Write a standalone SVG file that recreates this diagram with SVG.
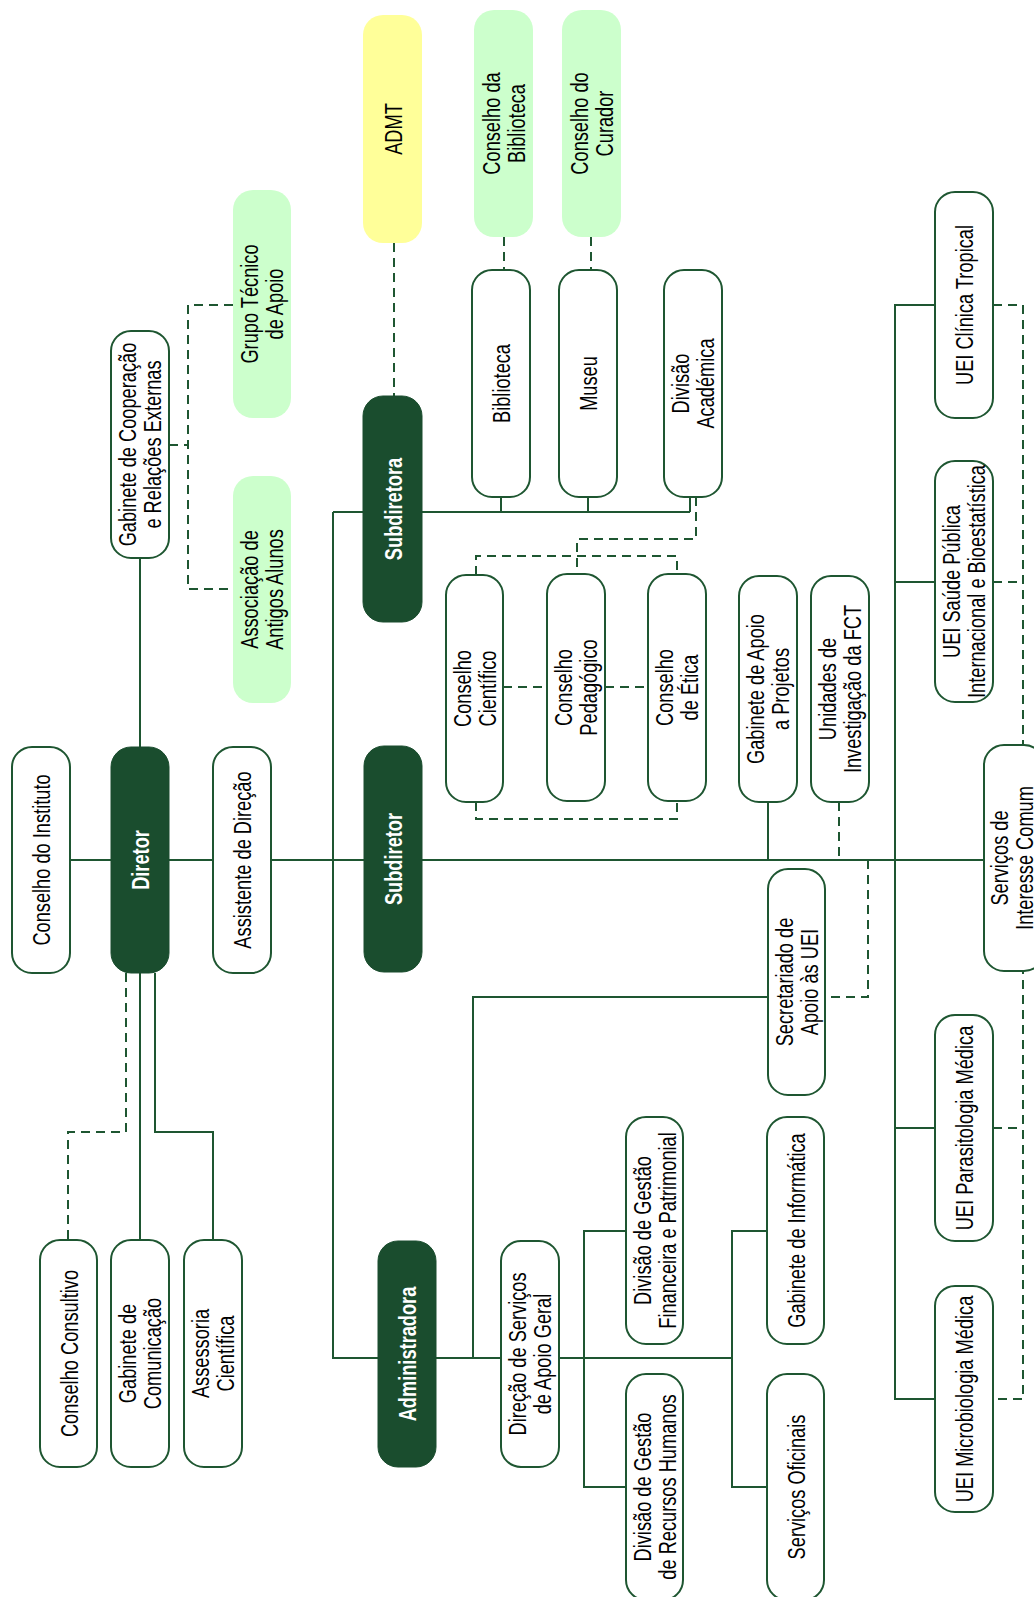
<svg xmlns="http://www.w3.org/2000/svg" width="1034" height="1597" viewBox="0 0 1034 1597">
<style>
.ln{fill:none;stroke:#1e5631;stroke-width:2}
.dl{fill:none;stroke:#1e5631;stroke-width:2;stroke-dasharray:9 6}
.box{fill:#ffffff;stroke:#1e5631;stroke-width:2}
.dark{fill:#1a4d2e;stroke:#1a4d2e;stroke-width:1}
.green{fill:#ccffcc}
.yellow{fill:#ffff99}
text{font-family:"Liberation Sans",Arial,sans-serif;font-size:24px;fill:#000;text-anchor:middle}
text.b{font-weight:bold;fill:#ffffff}
</style>
<rect width="1034" height="1597" fill="#ffffff"/>
<g id="connectors">
<path class="ln" d="M70 860 H984"/>
<path class="ln" d="M140 558 V747"/>
<path class="ln" d="M140 973 V1240"/>
<path class="ln" d="M155 973 V1132 H213 V1240"/>
<path class="ln" d="M333 512 H690"/>
<path class="ln" d="M333 512 V1358 H378"/>
<path class="ln" d="M501 497 V512 M588 497 V512 M690 497 V512"/>
<path class="ln" d="M436 1358 H501 M559 1358 H732"/>
<path class="ln" d="M473 1358 V997 H768"/>
<path class="ln" d="M626 1231 H584 V1487 H626"/>
<path class="ln" d="M767 1231 H732 V1487 H767"/>
<path class="ln" d="M768 802 V860"/>
<path class="ln" d="M935 305 H895 V1399 H935 M895 582 H935 M895 1128 H935"/>
<path class="dl" d="M126 973 V1132 H68 V1240"/>
<path class="dl" d="M169 445 H188 M233 305 H188 V589 H233"/>
<path class="dl" d="M394 243 V396"/>
<path class="dl" d="M504 237 V270 M591 237 V270"/>
<path class="dl" d="M696 497 V539 H577 V574"/>
<path class="dl" d="M476 575 V556 H677 V574"/>
<path class="dl" d="M503 687 H547 M605 687 H648"/>
<path class="dl" d="M476 802 V819 H677 V801"/>
<path class="dl" d="M839 802 V860"/>
<path class="dl" d="M868 860 V997 H825"/>
<path class="dl" d="M993 305 H1023 V1399 H993 M993 582 H1023 M993 1128 H1023"/>
</g>
<g id="n-conselho-instituto"><rect class="box" x="12" y="747" width="58" height="226" rx="20"/><text transform="translate(41,860) rotate(-90) scale(0.76,1)" y="9">Conselho do Instituto</text></g>
<g id="n-diretor"><rect class="dark" x="111" y="747" width="58" height="226" rx="20"/><text class="b" transform="translate(140,860) rotate(-90) scale(0.76,1)" y="9">Diretor</text></g>
<g id="n-assistente"><rect class="box" x="213" y="747" width="58" height="226" rx="20"/><text transform="translate(242,860) rotate(-90) scale(0.76,1)" y="9">Assistente de Direção</text></g>
<g id="n-subdiretor"><rect class="dark" x="364" y="746" width="58" height="226" rx="20"/><text class="b" transform="translate(393,859) rotate(-90) scale(0.76,1)" y="9">Subdiretor</text></g>
<g id="n-gab-coop"><rect class="box" x="111" y="331" width="58" height="227" rx="20"/><text transform="translate(140,444.5) rotate(-90) scale(0.76,1)"><tspan x="0" y="-4">Gabinete de Cooperação</tspan><tspan x="0" y="21">e Relações Externas</tspan></text></g>
<g id="n-grupo-tecnico"><rect class="green" x="233" y="190" width="58" height="228" rx="20"/><text transform="translate(262,304) rotate(-90) scale(0.76,1)"><tspan x="0" y="-4">Grupo Técnico</tspan><tspan x="0" y="21">de Apoio</tspan></text></g>
<g id="n-associacao"><rect class="green" x="233" y="476" width="58" height="227" rx="20"/><text transform="translate(262,589.5) rotate(-90) scale(0.76,1)"><tspan x="0" y="-4">Associação de</tspan><tspan x="0" y="21">Antigos Alunos</tspan></text></g>
<g id="n-admt"><rect class="yellow" x="363" y="15" width="59" height="228" rx="20"/><text transform="translate(392.5,129) rotate(-90) scale(0.76,1)" y="9">ADMT</text></g>
<g id="n-subdiretora"><rect class="dark" x="363" y="396" width="59" height="226" rx="20"/><text class="b" transform="translate(392.5,509) rotate(-90) scale(0.76,1)" y="9">Subdiretora</text></g>
<g id="n-conselho-biblioteca"><rect class="green" x="474" y="10" width="59" height="227" rx="20"/><text transform="translate(503.5,123.5) rotate(-90) scale(0.76,1)"><tspan x="0" y="-4">Conselho da</tspan><tspan x="0" y="21">Biblioteca</tspan></text></g>
<g id="n-conselho-curador"><rect class="green" x="562" y="10" width="59" height="227" rx="20"/><text transform="translate(591.5,123.5) rotate(-90) scale(0.76,1)"><tspan x="0" y="-4">Conselho do</tspan><tspan x="0" y="21">Curador</tspan></text></g>
<g id="n-biblioteca"><rect class="box" x="472" y="270" width="58" height="227" rx="20"/><text transform="translate(501,383.5) rotate(-90) scale(0.76,1)" y="9">Biblioteca</text></g>
<g id="n-museu"><rect class="box" x="559" y="270" width="58" height="227" rx="20"/><text transform="translate(588,383.5) rotate(-90) scale(0.76,1)" y="9">Museu</text></g>
<g id="n-divisao-academica"><rect class="box" x="664" y="270" width="58" height="227" rx="20"/><text transform="translate(693,383.5) rotate(-90) scale(0.76,1)"><tspan x="0" y="-4">Divisão</tspan><tspan x="0" y="21">Académica</tspan></text></g>
<g id="n-conselho-cientifico"><rect class="box" x="446" y="575" width="57" height="227" rx="20"/><text transform="translate(474.5,688.5) rotate(-90) scale(0.76,1)"><tspan x="0" y="-4">Conselho</tspan><tspan x="0" y="21">Científico</tspan></text></g>
<g id="n-conselho-pedagogico"><rect class="box" x="547" y="574" width="58" height="227" rx="20"/><text transform="translate(576,687.5) rotate(-90) scale(0.76,1)"><tspan x="0" y="-4">Conselho</tspan><tspan x="0" y="21">Pedagógico</tspan></text></g>
<g id="n-conselho-etica"><rect class="box" x="648" y="574" width="58" height="227" rx="20"/><text transform="translate(677,687.5) rotate(-90) scale(0.76,1)"><tspan x="0" y="-4">Conselho</tspan><tspan x="0" y="21">de Ética</tspan></text></g>
<g id="n-gab-apoio-projetos"><rect class="box" x="739" y="576" width="58" height="226" rx="20"/><text transform="translate(768,689) rotate(-90) scale(0.76,1)"><tspan x="0" y="-4">Gabinete de Apoio</tspan><tspan x="0" y="21">a Projetos</tspan></text></g>
<g id="n-unidades-fct"><rect class="box" x="811" y="576" width="58" height="226" rx="20"/><text transform="translate(840,689) rotate(-90) scale(0.76,1)"><tspan x="0" y="-4">Unidades de</tspan><tspan x="0" y="21">Investigação da FCT</tspan></text></g>
<g id="n-uei-clinica"><rect class="box" x="935" y="192" width="58" height="226" rx="20"/><text transform="translate(964,305) rotate(-90) scale(0.76,1)" y="9">UEI Clínica Tropical</text></g>
<g id="n-uei-saude"><rect class="box" x="935" y="461" width="58" height="241" rx="20"/><text transform="translate(964,581.5) rotate(-90) scale(0.76,1)"><tspan x="0" y="-4">UEI Saúde Pública</tspan><tspan x="0" y="21">Internacional e Bioestatística</tspan></text></g>
<g id="n-servicos-comum"><rect class="box" x="984" y="745" width="60" height="226" rx="20"/><text transform="translate(1012,858) rotate(-90) scale(0.76,1)"><tspan x="0" y="-4">Serviços de</tspan><tspan x="0" y="21">Interesse Comum</tspan></text></g>
<g id="n-secretariado"><rect class="box" x="768" y="869" width="57" height="226" rx="20"/><text transform="translate(796.5,982) rotate(-90) scale(0.76,1)"><tspan x="0" y="-4">Secretariado de</tspan><tspan x="0" y="21">Apoio às UEI</tspan></text></g>
<g id="n-uei-parasitologia"><rect class="box" x="935" y="1015" width="58" height="226" rx="20"/><text transform="translate(964,1128) rotate(-90) scale(0.76,1)" y="9">UEI Parasitologia Médica</text></g>
<g id="n-uei-microbiologia"><rect class="box" x="935" y="1286" width="58" height="226" rx="20"/><text transform="translate(964,1399) rotate(-90) scale(0.76,1)" y="9">UEI Microbiologia Médica</text></g>
<g id="n-administradora"><rect class="dark" x="378" y="1241" width="58" height="226" rx="20"/><text class="b" transform="translate(407,1354) rotate(-90) scale(0.76,1)" y="9">Administradora</text></g>
<g id="n-direcao-servicos"><rect class="box" x="501" y="1241" width="58" height="226" rx="20"/><text transform="translate(530,1354) rotate(-90) scale(0.76,1)"><tspan x="0" y="-4">Direção de Serviços</tspan><tspan x="0" y="21">de Apoio Geral</tspan></text></g>
<g id="n-div-financeira"><rect class="box" x="626" y="1117" width="57" height="227" rx="20"/><text transform="translate(654.5,1230.5) rotate(-90) scale(0.76,1)"><tspan x="0" y="-4">Divisão de Gestão</tspan><tspan x="0" y="21">Financeira e Patrimonial</tspan></text></g>
<g id="n-div-rh"><rect class="box" x="626" y="1374" width="57" height="226" rx="20"/><text transform="translate(654.5,1487) rotate(-90) scale(0.76,1)"><tspan x="0" y="-4">Divisão de Gestão</tspan><tspan x="0" y="21">de Recursos Humanos</tspan></text></g>
<g id="n-gab-informatica"><rect class="box" x="767" y="1117" width="57" height="227" rx="20"/><text transform="translate(795.5,1230.5) rotate(-90) scale(0.76,1)" y="9">Gabinete de Informática</text></g>
<g id="n-servicos-oficinais"><rect class="box" x="767" y="1374" width="57" height="226" rx="20"/><text transform="translate(795.5,1487) rotate(-90) scale(0.76,1)" y="9">Serviços Oficinais</text></g>
<g id="n-conselho-consultivo"><rect class="box" x="40" y="1240" width="57" height="227" rx="20"/><text transform="translate(68.5,1353.5) rotate(-90) scale(0.76,1)" y="9">Conselho Consultivo</text></g>
<g id="n-gab-comunicacao"><rect class="box" x="111" y="1240" width="58" height="227" rx="20"/><text transform="translate(140,1353.5) rotate(-90) scale(0.76,1)"><tspan x="0" y="-4">Gabinete de</tspan><tspan x="0" y="21">Comunicação</tspan></text></g>
<g id="n-assessoria"><rect class="box" x="184" y="1240" width="58" height="227" rx="20"/><text transform="translate(213,1353.5) rotate(-90) scale(0.76,1)"><tspan x="0" y="-4">Assessoria</tspan><tspan x="0" y="21">Científica</tspan></text></g>
</svg>
